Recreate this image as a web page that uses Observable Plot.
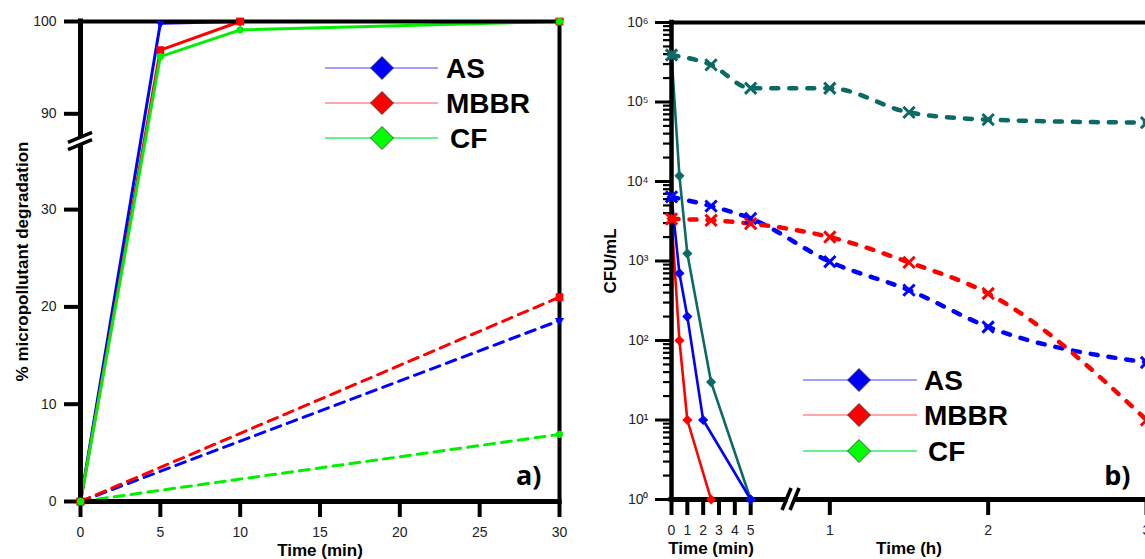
<!DOCTYPE html>
<html>
<head>
<meta charset="utf-8">
<script src="https://cdn.jsdelivr.net/npm/d3@7"></script>
<script src="https://cdn.jsdelivr.net/npm/@observablehq/plot@0.6"></script>
<style>
  html, body { margin:0; padding:0; background:#fff; overflow:hidden; }
  #wrap { position:relative; width:1145px; height:559px; overflow:hidden; background:#fff; }
  #panelA { position:absolute; left:0; top:0; width:585px; height:559px; }
  #panelB { position:absolute; left:585px; top:0; width:575px; height:559px; }
  #panelA svg, #panelB svg { max-width:none !important; overflow:visible; }
</style>
</head>
<body>
<div id="wrap"><div id="panelA"></div><div id="panelB"></div></div>
<script>
// ---------------- DATA ----------------
// Panel a: % micropollutant degradation vs time (min)
const timeMinA = [0, 5, 10, 30];
const degAS   = [0, 99.8, 100, 100];
const degMBBR = [0, 96.9, 100, 100];
const degCF   = [0, 96.2, 99.1, 100];
const timeMinAControl = [0, 30];
const degASControl   = [0, 18.6];
const degMBBRControl = [0, 21.0];
const degCFControl   = [0, 6.9];
const yTicksA = [0, 10, 20, 30, 90, 100];
const xTicksA = [0, 5, 10, 15, 20, 25, 30];

// Panel b: CFU/mL, solid lines in minutes, dashed lines in hours
const timeMinAS_B   = [0, 0.5, 1, 2, 5];
const cfuAS_B       = [6400, 700, 200, 10, 1];
const timeMinMBBR_B = [0, 0.5, 1, 2.5];
const cfuMBBR_B     = [3400, 100, 10, 1];
const timeMinCF_B   = [0, 0.5, 1, 2.5, 5];
const cfuCF_B       = [390000, 11800, 1240, 30, 1];
const timeH_B       = [0, 0.25, 0.5, 1, 1.5, 2, 3];
const cfuAS_H       = [6400, 4900, 3430, 980, 430, 148, 53];
const cfuMBBR_H     = [3380, 3250, 2950, 2000, 960, 390, 10];
const cfuCF_H       = [390000, 293000, 149000, 149000, 74000, 60000, 55000];
const yTicksB = [1, 10, 100, 1000, 10000, 100000, 1000000];
const xTicksMinB = [0, 1, 2, 3, 4, 5];
const xTicksHourB = [1, 2, 3];

const seriesNames = ["AS", "MBBR", "CF"];

// ---------------- STYLE ----------------
const BLUE = "#0000ff", RED = "#ff0000", GREEN = "#00f000", TEAL = "#0b6a65";
const FONT = "'Liberation Sans', Arial, Helvetica, sans-serif";
const LFONT = "'Open Sans', 'Liberation Sans', sans-serif";
const TICKCOL = "#222";

const rowsOf = (times, vals, name) => times.map((t, i) => ({name, t, v: vals[i]}));

// ---------------- PANEL A ----------------
// broken y axis: 0-37 on lower 3/4, 87-100 on upper 1/4
const brkLow = 37, brkHigh = 87;
const yDispA = v => v <= brkLow ? (v / brkLow) * 0.75 : 0.75 + ((v - brkHigh) / (100 - brkHigh)) * 0.25;
const yLabelA = new Map(yTicksA.map(v => [yDispA(v).toFixed(6), String(v)]));

const styleA = {
  AS:   {color: BLUE,  symbol: "triangle", rotate: 180, r: 3.4},
  MBBR: {color: RED,   symbol: "square",   rotate: 0,   r: 4.4},
  CF:   {color: GREEN, symbol: "circle",   rotate: 0,   r: 3.6}
};
const solidA = {AS: rowsOf(timeMinA, degAS, "AS"), MBBR: rowsOf(timeMinA, degMBBR, "MBBR"), CF: rowsOf(timeMinA, degCF, "CF")};
const ctrlA = {AS: rowsOf(timeMinAControl, degASControl, "AS"), MBBR: rowsOf(timeMinAControl, degMBBRControl, "MBBR"), CF: rowsOf(timeMinAControl, degCFControl, "CF")};

const titleOpts = {fontWeight: "bold", fontSize: 17, fontFamily: FONT, fill: "black", textAnchor: "middle", lineAnchor: "middle"};

const marksA = [];
for (const n of seriesNames) {
  marksA.push(Plot.line(ctrlA[n], {x: "t", y: d => yDispA(d.v), stroke: styleA[n].color, strokeWidth: 3, strokeDasharray: "10,7"}));
}
for (const n of seriesNames) {
  marksA.push(Plot.line(solidA[n], {x: "t", y: d => yDispA(d.v), stroke: styleA[n].color, strokeWidth: 3}));
}
marksA.push(
  Plot.ruleY([1], {stroke: "black", strokeWidth: 4, strokeLinecap: "square"}),
  Plot.ruleX([30], {stroke: "black", strokeWidth: 4, strokeLinecap: "square"}),
  Plot.ruleX([0], {stroke: "black", strokeWidth: 5, strokeLinecap: "square"}),
  Plot.ruleY([0], {stroke: "black", strokeWidth: 5, strokeLinecap: "square"}),
  Plot.axisX({ticks: xTicksA, tickSize: 16, strokeWidth: 4, tickPadding: 10, fontSize: 14, label: null, color: TICKCOL, stroke: "black"}),
  Plot.axisY({ticks: yTicksA.map(yDispA), tickFormat: d => yLabelA.get(d.toFixed(6)), tickSize: 16, strokeWidth: 4, tickPadding: 8, fontSize: 14, label: null, color: TICKCOL, stroke: "black"})
);
for (const n of seriesNames) {
  const s = styleA[n];
  marksA.push(Plot.dot(ctrlA[n].concat(solidA[n]), {x: "t", y: d => yDispA(d.v), symbol: s.symbol, rotate: s.rotate, r: s.r, fill: s.color, stroke: "none"}));
}
marksA.push(
  Plot.text(["Time (min)"], {text: d => d, frameAnchor: "bottom", dy: 49, ...titleOpts}),
  Plot.text(["% micropollutant degradation"], {text: d => d, frameAnchor: "left", dx: -58, rotate: -90, ...titleOpts}),
  Plot.text(["a)"], {text: d => d, frameAnchor: "bottom-right", dx: -18, dy: -25, textAnchor: "end", lineAnchor: "middle", fontWeight: "bold", fontSize: 27, fontFamily: LFONT, fill: "black"})
);

const chartA = Plot.plot({
  width: 585, height: 559,
  marginLeft: 80, marginRight: 26, marginTop: 21, marginBottom: 58,
  x: {domain: [0, 30]},
  y: {domain: [0, 1]},
  style: {fontFamily: FONT, fontSize: "14px", background: "white", overflow: "visible"},
  marks: marksA
});
document.getElementById("panelA").appendChild(chartA);

// ---------------- PANEL B ----------------
const minToDisp = m => m / 10;   // 1 min of the min-segment spans 0.1 h of axis length
const styleB = {AS: BLUE, MBBR: RED, CF: TEAL};
const solidB = {
  AS: rowsOf(timeMinAS_B.map(minToDisp), cfuAS_B, "AS"),
  MBBR: rowsOf(timeMinMBBR_B.map(minToDisp), cfuMBBR_B, "MBBR"),
  CF: rowsOf(timeMinCF_B.map(minToDisp), cfuCF_B, "CF")
};
const dashB = {
  AS: rowsOf(timeH_B, cfuAS_H, "AS"),
  MBBR: rowsOf(timeH_B, cfuMBBR_H, "MBBR"),
  CF: rowsOf(timeH_B, cfuCF_H, "CF")
};
const supDigits = ["⁰","¹","²","³","⁴","⁵","⁶"];
const minorTicksB = [];
for (let k = 0; k < 6; k++) for (let m = 2; m <= 9; m++) minorTicksB.push(m * Math.pow(10, k));
const xTicksB = xTicksMinB.map(minToDisp).concat(xTicksHourB);
const xLabelsB = xTicksMinB.map(String).concat(xTicksHourB.map(String));

const marksB = [];
for (const n of ["CF", "AS", "MBBR"]) {
  marksB.push(Plot.line(dashB[n], {x: "t", y: "v", stroke: styleB[n], strokeWidth: 4.5, strokeDasharray: "7,11", strokeLinecap: "round", curve: "monotone-x"}));
}
for (const n of ["CF", "AS", "MBBR"]) {
  marksB.push(Plot.line(solidB[n], {x: "t", y: "v", stroke: styleB[n], strokeWidth: 2.6}));
}
marksB.push(
  Plot.ruleY([1e6], {stroke: "black", strokeWidth: 4, strokeLinecap: "square"}),
  Plot.ruleX([3], {stroke: "black", strokeWidth: 3, strokeLinecap: "square"}),
  Plot.ruleX([0], {stroke: "black", strokeWidth: 4.5, strokeLinecap: "square"}),
  Plot.ruleY([1], {stroke: "black", strokeWidth: 5, strokeLinecap: "square"}),
  Plot.axisY({ticks: minorTicksB, tickFormat: () => "", tickSize: 8, strokeWidth: 2.2, label: null, stroke: "black"}),
  Plot.axisY({ticks: yTicksB, tickFormat: d => "10" + supDigits[Math.round(Math.log10(d))], tickSize: 16, strokeWidth: 3, tickPadding: 7, fontSize: 14, label: null, color: TICKCOL, stroke: "black"}),
  Plot.axisX({ticks: xTicksB, tickFormat: d => xLabelsB[xTicksB.indexOf(d)], tickSize: 16, strokeWidth: 4, tickPadding: 10, fontSize: 14, label: null, color: TICKCOL, stroke: "black"})
);
for (const n of ["CF", "AS", "MBBR"]) {
  marksB.push(Plot.dot(dashB[n], {x: "t", y: "v", symbol: "times", r: 5.2, stroke: styleB[n], strokeWidth: 3}));
  marksB.push(Plot.dot(solidB[n], {x: "t", y: "v", symbol: "diamond2", r: 4.6, fill: styleB[n], stroke: "none"}));
}
marksB.push(
  Plot.text([{label: "Time (min)", x: minToDisp(2.5)}], {x: "x", text: "label", frameAnchor: "bottom", dy: 49, ...titleOpts}),
  Plot.text([{label: "Time (h)", x: 1.5}], {x: "x", text: "label", frameAnchor: "bottom", dy: 49, ...titleOpts}),
  Plot.text(["CFU/mL"], {text: d => d, frameAnchor: "left", dx: -61, rotate: -90, ...titleOpts}),
  Plot.text(["b)"], {text: d => d, frameAnchor: "bottom-right", dx: -16, dy: -23, textAnchor: "end", lineAnchor: "middle", fontWeight: "bold", fontSize: 27, fontFamily: LFONT, fill: "black"})
);

const chartB = Plot.plot({
  width: 575, height: 559,
  marginLeft: 86, marginRight: 14, marginTop: 22, marginBottom: 60,
  x: {domain: [0, 3]},
  y: {type: "log", domain: [1, 1e6]},
  style: {fontFamily: FONT, fontSize: "14px", background: "white", overflow: "visible"},
  marks: marksB
});
document.getElementById("panelB").appendChild(chartB);

// ---------------- axis breaks ----------------
(function () {
  const xs = chartA.scale("x"), ys = chartA.scale("y");
  const bx = xs.apply(0), by = ys.apply(0.75);
  const g = d3.select(chartA).append("g");
  g.append("rect").attr("x", bx - 8).attr("y", by - 3).attr("width", 16).attr("height", 6).attr("fill", "white");
  for (const o of [-3.6, 3.6]) {
    g.append("line").attr("x1", bx - 12).attr("y1", by + o + 5).attr("x2", bx + 12).attr("y2", by + o - 5)
      .attr("stroke", "black").attr("stroke-width", 3.6);
  }
})();
(function () {
  const xs = chartB.scale("x"), ys = chartB.scale("y");
  const bx = xs.apply(0.755), by = ys.apply(1);
  const g = d3.select(chartB).append("g");
  g.append("rect").attr("x", bx - 3).attr("y", by - 4).attr("width", 6).attr("height", 8).attr("fill", "white");
  for (const o of [-4, 4]) {
    g.append("line").attr("x1", bx + o - 4.5).attr("y1", by + 11).attr("x2", bx + o + 4.5).attr("y2", by - 11)
      .attr("stroke", "black").attr("stroke-width", 3.6);
  }
})();

// ---------------- legends ----------------
const legendStyle = {
  AS:   {line: "#8080ff", fill: BLUE},
  MBBR: {line: "#ff8a8a", fill: RED},
  CF:   {line: "#33ee66", fill: "#00ff00"}
};
function drawLegend(svg, x1, x2, xd, xt, rows) {
  const g = d3.select(svg).append("g").attr("text-anchor", "start");
  rows.forEach(([name, y]) => {
    const s = legendStyle[name];
    g.append("line").attr("x1", x1).attr("x2", x2).attr("y1", y).attr("y2", y).attr("stroke", s.line).attr("stroke-width", 1.6);
    const h = 11.5;
    g.append("polygon").attr("points", `${xd},${y - h} ${xd + h},${y} ${xd},${y + h} ${xd - h},${y}`)
      .attr("fill", s.fill).attr("stroke", "#333").attr("stroke-width", 0.8);
    g.append("text").attr("x", xt + (name === "CF" ? 4 : 0)).attr("y", y + 10).attr("text-anchor", "start")
      .attr("font-family", FONT).attr("font-weight", 700).attr("font-size", 28).attr("fill", "black").text(name);
  });
}
drawLegend(chartA, 325, 438, 382, 446, [["AS", 68], ["MBBR", 103], ["CF", 138]]);
drawLegend(chartB, 803 - 585, 917 - 585, 859 - 585, 924 - 585, [["AS", 380], ["MBBR", 415], ["CF", 451]]);
</script>
</body>
</html>
